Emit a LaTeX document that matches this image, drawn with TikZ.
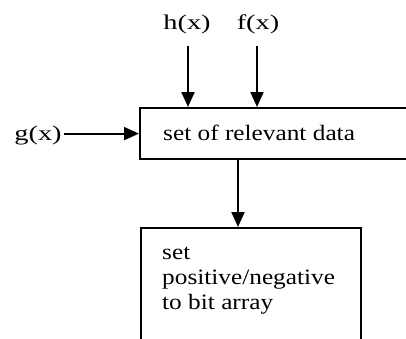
\documentclass[tikz,border=0pt]{standalone}
\usepackage{fontspec}
\usepackage{graphicx}
\setmainfont{Liberation Serif}
\usetikzlibrary{arrows.meta}
\tikzset{
  flow/.style={line width=2pt, -{Triangle[width=13pt,length=15pt]}},
  blockbox/.style={draw, line width=2.2pt, rectangle, inner sep=0pt},
  inlabel/.style={inner sep=2pt, font=\fontsize{21}{21}\selectfont},
  boxtext/.style={inner sep=0pt, align=left, font=\fontsize{22}{25}\selectfont}
}
\newcommand{\wide}[1]{\scalebox{1.35}[1]{#1}}
\newcommand{\wider}[1]{\scalebox{1.15}[1]{#1}}
\begin{document}
\begin{tikzpicture}[x=1pt, y=-1pt]
  \useasboundingbox (0,0) rectangle (406,338);
  \clip (0,0) rectangle (406,338);

  % processing blocks
  \node[blockbox, anchor=north west, minimum width=300pt, minimum height=51pt] (data) at (139,107) {};
  \node[boxtext, anchor=west] (datatext) at (163,133) {\wider{set of relevant data}};
  \node[blockbox, anchor=north west, minimum width=220pt, minimum height=140pt] (bits) at (140,227) {};
  \node[boxtext, anchor=north west] (bitstext) at (162,247)
    {\wider{set}\\ \wider{positive/negative}\\ \wider{to bit array}};

  % inputs
  \node[inlabel] (h) at (187,24) {\wide{h(x)}};
  \node[inlabel] (f) at (258,24) {\wide{f(x)}};
  \node[inlabel] (g) at (38,135) {\wide{g(x)}};

  \coordinate (ha) at (188,0);
  \coordinate (fa) at (257,0);
  \coordinate (da) at (238,0);

  % connectors
  \draw[flow] (ha |- 0,46) -- (ha |- data.north);
  \draw[flow] (fa |- 0,46) -- (fa |- data.north);
  \draw[flow] (g.east |- data.west) -- (data.west);
  \draw[flow] (da |- data.south) -- (da |- bits.north);
\end{tikzpicture}
\end{document}
